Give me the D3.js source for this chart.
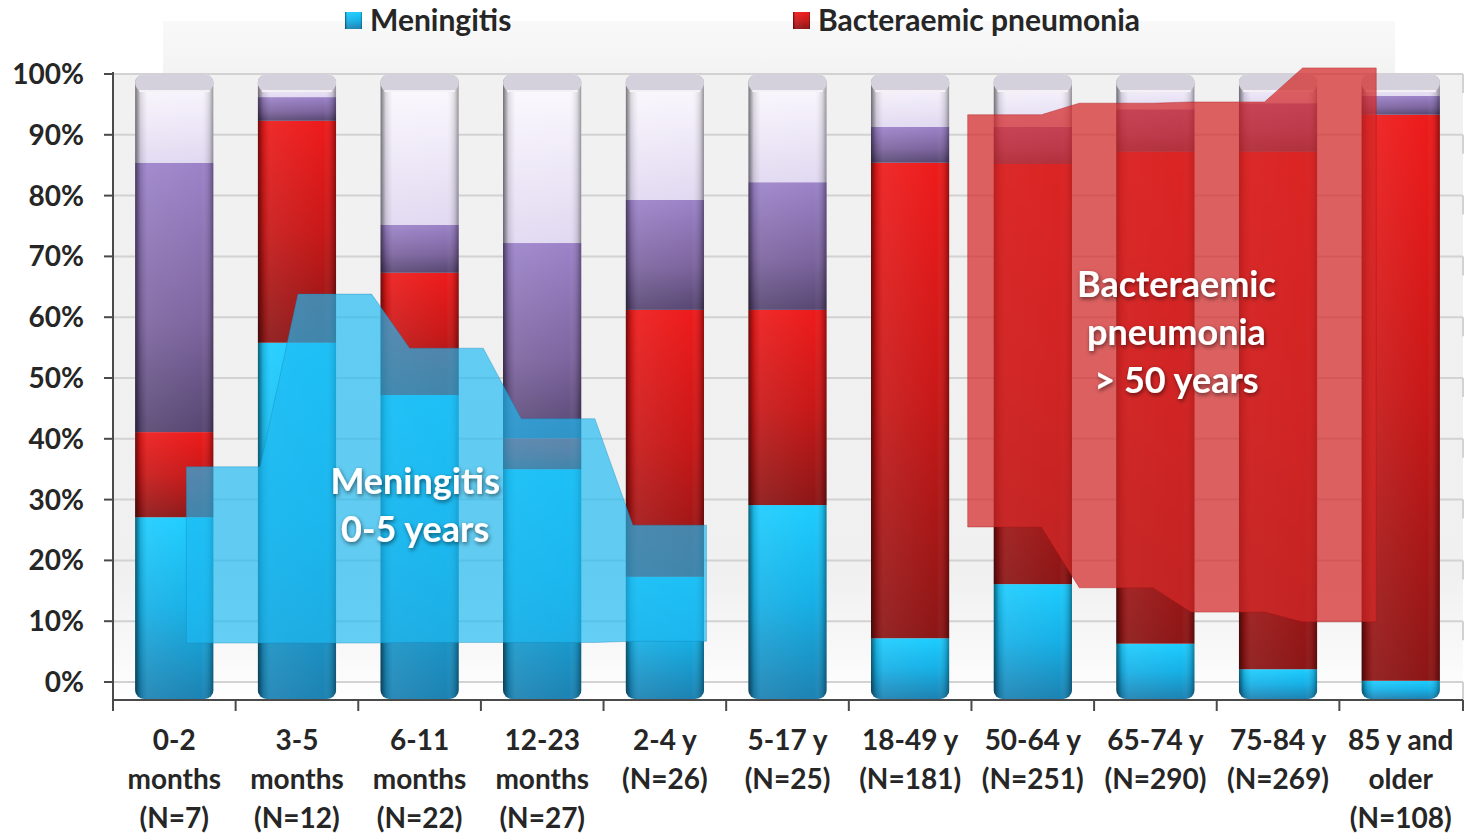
<!DOCTYPE html>
<html>
<head>
<meta charset="utf-8">
<script src="https://cdn.jsdelivr.net/npm/d3@7"></script>
<style>
    body { margin: 0; background: #fff; }
    svg { display: block; font-family: Lato, "Open Sans", sans-serif; }
</style>
</head>
<body>
<svg id="chart" width="1465" height="835"></svg>
<script>
// age groups, one label line per entry
const labelLines = [
    ["0-2", "months", "(N=7)"],
    ["3-5", "months", "(N=12)"],
    ["6-11", "months", "(N=22)"],
    ["12-23", "months", "(N=27)"],
    ["2-4 y", "(N=26)"],
    ["5-17 y", "(N=25)"],
    ["18-49 y", "(N=181)"],
    ["50-64 y", "(N=251)"],
    ["65-74 y", "(N=290)"],
    ["75-84 y", "(N=269)"],
    ["85 y and", "older", "(N=108)"]
];
const categories = labelLines.map(l => l.join(" "));

// share of cases (%) per clinical picture
const meningitis = [27.1, 55.8, 47.2, 35.0, 17.3, 29.1, 7.2, 16.1, 6.3, 2.1, 0.2];
const bacteraemicPneumonia = [14.0, 36.5, 20.1, 5.1, 43.9, 32.1, 78.2, 69.1, 80.9, 85.1, 93.1];
const otherFocus = [44.3, 3.9, 7.9, 32.1, 18.1, 21.0, 5.9, 6.1, 7.0, 8.0, 3.1];
const noFocus = [14.6, 3.8, 24.8, 27.8, 20.7, 17.8, 8.7, 8.7, 5.8, 4.8, 3.6];

const seriesKeys = ["meningitis", "pneumonia", "other", "nofocus"];
const legendNames = ["Meningitis", "Bacteraemic pneumonia"];

const yTickValues = [0, 10, 20, 30, 40, 50, 60, 70, 80, 90, 100];

// highlighted bands (annotation shapes), in %
const meningitisBandTop = [35.4, 63.8, 54.9, 43.3, 25.8];
const meningitisBandBottom = [6.4, 6.4, 6.5, 6.5, 6.7];
const pneumoniaBandTop = [93.3, 95.2, 95.4, 101.0];
const pneumoniaBandBottom = [25.5, 15.5, 11.5, 9.9];

const table = categories.map((c, i) => ({
    cat: c,
    meningitis: meningitis[i],
    pneumonia: bacteraemicPneumonia[i],
    other: otherFocus[i],
    nofocus: noFocus[i]
}));

const svg = d3.select("#chart");
const plotLeft = 113, plotRight = 1462, plotTop = 74, plotBottom = 682;
const depth = 17;

const x = d3.scaleBand().domain(categories).range([plotLeft, plotRight])
    .paddingInner(0.36).paddingOuter(0.18);
const y = d3.scaleLinear().domain([0, 100]).range([plotBottom, plotTop]);
const bw = x.bandwidth();

const defs = svg.append("defs");

function vGrad(id, stops) {
    const g = defs.append("linearGradient").attr("id", id)
        .attr("x1", 0).attr("y1", 0).attr("x2", 0).attr("y2", 1);
    stops.forEach(s => g.append("stop").attr("offset", s[0]).attr("stop-color", s[1]));
}
vGrad("g-meningitis", [[0, "#1dcdff"], [0.5, "#16b0e6"], [1, "#1c82b2"]]);
vGrad("g-pneumonia", [[0, "#ee1b1b"], [0.5, "#c81818"], [1, "#8c1616"]]);
vGrad("g-other", [[0, "#9c83c9"], [0.6, "#7d659f"], [1, "#574772"]]);
vGrad("g-nofocus", [[0, "#fdfbff"], [1, "#e1d9f1"]]);
vGrad("g-wall", [[0, "#f1f1f1"], [0.8, "#f0f0f0"], [0.93, "#f9f9f9"], [1, "#ffffff"]]);
vGrad("g-panel", [[0, "#f9f9f9"], [1, "#f3f3f3"]]);

const shade = defs.append("linearGradient").attr("id", "g-shade")
    .attr("x1", 0).attr("y1", 0).attr("x2", 1).attr("y2", 0);
[[0, "#000", 0.55], [0.07, "#000", 0.12], [0.16, "#fff", 0.07], [0.84, "#fff", 0],
 [0.95, "#000", 0.14], [1, "#000", 0.4]].forEach(s =>
    shade.append("stop").attr("offset", s[0]).attr("stop-color", s[1]).attr("stop-opacity", s[2]));

const shadow = defs.append("filter").attr("id", "txtshadow")
    .attr("x", "-20%").attr("y", "-30%").attr("width", "140%").attr("height", "160%");
shadow.append("feDropShadow").attr("dx", 1).attr("dy", 2).attr("stdDeviation", 2)
    .attr("flood-color", "#000").attr("flood-opacity", 0.55);

// background panel and wall
svg.append("rect").attr("x", 163).attr("y", 21).attr("width", 1232).attr("height", plotTop - 21)
    .attr("fill", "url(#g-panel)");
svg.append("rect").attr("x", plotLeft).attr("y", plotTop).attr("width", plotRight - plotLeft + 1)
    .attr("height", plotBottom + depth + 1 - plotTop).attr("fill", "url(#g-wall)");

// gridlines
svg.append("g").selectAll("line").data(yTickValues).join("line")
    .attr("x1", plotLeft).attr("x2", plotRight + 1)
    .attr("y1", d => y(d)).attr("y2", d => y(d))
    .attr("stroke", "#d2d2d2").attr("stroke-width", 2);
svg.append("g").selectAll("line").data(yTickValues).join("line")
    .attr("x1", plotRight + 1).attr("x2", plotRight + 1)
    .attr("y1", d => y(d)).attr("y2", d => y(d) + depth + 2)
    .attr("stroke", "#d2d2d2").attr("stroke-width", 2);

// stacked bars
const stacked = d3.stack().keys(seriesKeys)(table);

const bars = svg.append("g").selectAll("g.bar").data(categories).join("g")
    .attr("class", "bar")
    .attr("transform", d => `translate(${x(d)},0)`);

bars.each(function (c, i) {
    const g = d3.select(this);
    const clipId = "clip" + i;
    defs.append("clipPath").attr("id", clipId).append("rect")
        .attr("x", 0).attr("y", y(100)).attr("width", bw)
        .attr("height", y(0) + depth - y(100)).attr("rx", 9);
    const inner = g.append("g").attr("clip-path", `url(#${clipId})`);
    stacked.forEach((layer, k) => {
        const d = layer[i];
        const y0 = k === 0 ? y(0) + depth : y(d[0]);
        inner.append("rect")
            .attr("x", 0).attr("width", bw)
            .attr("y", y(d[1]))
            .attr("height", Math.max(0, y0 - y(d[1])))
            .attr("fill", `url(#g-${layer.key})`);
    });
    inner.append("rect").attr("x", 0).attr("width", bw)
        .attr("y", y(100)).attr("height", y(0) + depth - y(100))
        .attr("fill", "url(#g-shade)");
    // top face
    g.append("rect").attr("x", 0).attr("width", bw)
        .attr("y", y(100)).attr("height", depth + 1).attr("rx", 9)
        .attr("fill", "#d5d1dc");
    g.append("rect").attr("x", 4).attr("width", bw - 8)
        .attr("y", y(100) + depth - 1).attr("height", 2)
        .attr("fill", "#ffffff").attr("opacity", 0.7);
});

// annotation bands
const annX = d3.scaleLinear().domain([0, 10])
    .range([x(categories[0]) + x.step() * 0.418, x(categories[10]) - x.step() * 0.48]);
const flat = 0.66;

function bandPath(start, topVals, botVals) {
    const pts = [];
    topVals.forEach((v, i) => {
        pts.push([annX(start + i), y(v)]);
        pts.push([annX(start + i + flat), y(v)]);
    });
    const bot = [];
    botVals.forEach((v, i) => {
        bot.push([annX(start + i), y(v)]);
        bot.push([annX(start + i + flat), y(v)]);
    });
    return d3.line()(pts.concat(bot.reverse())) + "Z";
}

svg.append("path")
    .attr("d", bandPath(0, meningitisBandTop, meningitisBandBottom))
    .attr("fill", "rgb(30,185,242)").attr("fill-opacity", 0.68)
    .attr("stroke", "rgb(20,130,180)").attr("stroke-opacity", 0.35);

svg.append("path")
    .attr("d", bandPath(7, pneumoniaBandTop, pneumoniaBandBottom))
    .attr("fill", "rgb(212,40,40)").attr("fill-opacity", 0.72)
    .attr("stroke", "rgb(170,20,20)").attr("stroke-opacity", 0.4);

// annotation texts
const lineGap = y(0) - y(7.9);
const noteStyle = sel => sel.attr("fill", "#fff").attr("font-size", 36).attr("font-weight", 700)
    .attr("text-anchor", "middle").attr("dominant-baseline", "central")
    .attr("filter", "url(#txtshadow)");

svg.append("g").selectAll("text").data(["Meningitis", "0-5 years"]).join("text")
    .attr("x", annX(2.05)).attr("y", (d, i) => y(33.2) + i * lineGap)
    .text(d => d).call(noteStyle);

svg.append("g").selectAll("text").data(["Bacteraemic", "pneumonia", "> 50 years"]).join("text")
    .attr("x", annX(8.87)).attr("y", (d, i) => y(65.6) + i * lineGap)
    .text(d => d).call(noteStyle);

// axes
const axisColor = "#4a4a4a";
svg.append("line").attr("x1", plotLeft).attr("x2", plotLeft).attr("y1", plotTop - 2).attr("y2", y(0) + depth + 1)
    .attr("stroke", axisColor).attr("stroke-width", 2);
svg.append("line").attr("x1", plotLeft).attr("x2", plotRight + 1).attr("y1", y(0) + depth + 1).attr("y2", y(0) + depth + 1)
    .attr("stroke", axisColor).attr("stroke-width", 2);

svg.append("g").selectAll("line").data(yTickValues).join("line")
    .attr("x1", plotLeft - 9).attr("x2", plotLeft).attr("y1", d => y(d)).attr("y2", d => y(d))
    .attr("stroke", axisColor).attr("stroke-width", 2);

svg.append("g").selectAll("text").data(yTickValues).join("text")
    .attr("x", 84).attr("y", d => y(d)).attr("dy", "0.36em")
    .attr("text-anchor", "end").attr("font-size", 28).attr("font-weight", 700)
    .attr("fill", "#262626")
    .text(d => d + "%");

const xTicks = categories.map(c => x(c) - x.step() * x.paddingInner() / 2)
    .concat([plotRight + 1]);
svg.append("g").selectAll("line").data(xTicks).join("line")
    .attr("x1", d => d).attr("x2", d => d)
    .attr("y1", y(0) + depth + 1).attr("y2", y(0) + depth + 12)
    .attr("stroke", axisColor).attr("stroke-width", 2);

const xl = svg.append("g").selectAll("text").data(categories).join("text")
    .attr("x", d => x(d) + bw / 2)
    .attr("text-anchor", "middle").attr("font-size", 28).attr("font-weight", 700)
    .attr("fill", "#262626");
xl.selectAll("tspan").data((d, i) => labelLines[i]).join("tspan")
    .attr("x", function () { return d3.select(this.parentNode).attr("x"); })
    .attr("y", (d, j) => 750 + j * 39)
    .text(d => d);

// legend
const legendX = [345, 793];
const lg = svg.append("g").selectAll("g").data(legendNames).join("g")
    .attr("transform", (d, i) => `translate(${legendX[i]},12)`);
lg.append("rect").attr("width", 17).attr("height", 17)
    .attr("fill", (d, i) => i === 0 ? "url(#g-meningitis)" : "url(#g-pneumonia)");
lg.append("rect").attr("width", 17).attr("height", 17).attr("fill", "url(#g-shade)");
lg.append("text").attr("x", 25).attr("y", 19)
    .attr("font-size", 30).attr("font-weight", 700).attr("fill", "#262626")
    .text(d => d);
</script>
</body>
</html>
